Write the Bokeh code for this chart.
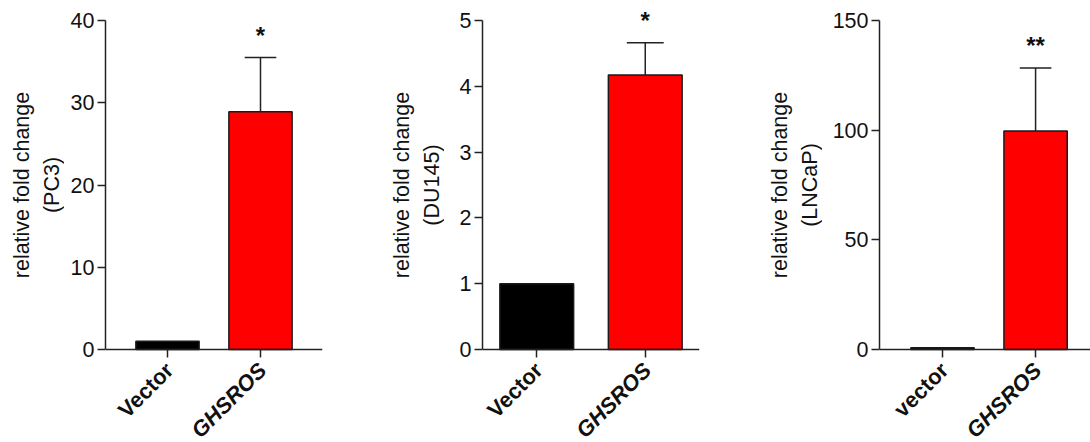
import math
from bokeh.plotting import figure
from bokeh.layouts import row
from bokeh.models import Range1d, FixedTicker
from bokeh.core.properties import value
from bokeh.embed import file_html
from bokeh.resources import INLINE

# ---------------- data ----------------
pc3_categories = ["Vector", "GHSROS"]
pc3_values = [1.0, 28.9]
pc3_errors = [0.0, 6.6]
pc3_sig = ["", "*"]
pc3_yticks = [0, 10, 20, 30, 40]

du145_categories = ["Vector", "GHSROS"]
du145_values = [1.0, 4.17]
du145_errors = [0.0, 0.49]
du145_sig = ["", "*"]
du145_yticks = [0, 1, 2, 3, 4, 5]

lncap_categories = ["vector", "GHSROS"]
lncap_values = [0.8, 99.6]
lncap_errors = [0.0, 28.8]
lncap_sig = ["", "**"]
lncap_yticks = [0, 50, 100, 150]

bar_colors = ["#000000", "#ff0000"]
label_styles = ["bold", "bold italic"]

FONT = "Liberation Sans"
AXC = "#222222"
TXT = "#111111"
H = 442
PLOT_H = 329      # px between y=0 and the top tick
PAD_TOP = 20      # px above the top tick
PAD_BOT = H - PLOT_H - PAD_TOP   # px below y=0 (category labels live there)


def make_panel(cats, vals, errs, sig, yticks, ylabel, lab_w, width, bl, br, xr):
    ytop = yticks[-1]
    px = ytop / PLOT_H
    yrange = Range1d(-PAD_BOT * px, ytop + PAD_TOP * px)

    # y-axis title (separate strip so it centres on the 0..top span)
    t = figure(width=lab_w, height=H, output_backend="svg", toolbar_location=None,
               x_range=Range1d(0, 1), y_range=yrange, min_border_left=0,
               min_border_right=0, min_border_top=0, min_border_bottom=0)
    t.outline_line_color = None
    t.grid.visible = False
    t.axis.visible = False
    t.text(x=[1], y=[(yticks[0] + ytop) / 2], text=[ylabel], x_offset=-1,
           angle=math.pi / 2, text_align="center", text_baseline="bottom",
           text_line_height=1.25, text_font=value(FONT), text_font_size="21.5px",
           text_color=TXT)

    p = figure(width=width, height=H, output_backend="svg", toolbar_location=None,
               x_range=Range1d(*xr), y_range=yrange,
               min_border_left=bl, min_border_right=br, min_border_top=0,
               min_border_bottom=0)
    p.outline_line_color = None
    p.grid.visible = False
    xs = [i + 0.5 for i in range(len(cats))]
    p.vbar(x=xs, top=vals, bottom=0, width=0.68, fill_color=bar_colors,
           line_color="#1a1a1a", line_width=1.5)
    ex = [x for x, e in zip(xs, errs) if e > 0]
    ev = [v for v, e in zip(vals, errs) if e > 0]
    et = [v + e for v, e in zip(vals, errs) if e > 0]
    p.segment(x0=ex, y0=ev, x1=ex, y1=et, line_color=AXC, line_width=1.5)
    p.segment(x0=[x - 0.17 for x in ex], y0=et, x1=[x + 0.17 for x in ex], y1=et,
              line_color=AXC, line_width=1.5)
    sx = [x for x, s in zip(xs, sig) if s]
    sy = [v + e for v, e, s in zip(vals, errs, sig) if s]
    st = [s for s in sig if s]
    p.text(x=sx, y=sy, text=st, y_offset=-22, text_align="center", text_baseline="middle",
           text_font=value(FONT), text_font_size="24px", text_font_style="bold",
           text_color=TXT)
    for x, c, s in zip(xs, cats, label_styles):
        p.text(x=[x], y=[0], text=[c], x_offset=2, y_offset=17, angle=math.pi / 4,
               text_align="right", text_baseline="middle", text_font=value(FONT),
               text_font_size="22px", text_font_style=s, text_color=TXT)

    ya = p.yaxis[0]
    ya.ticker = FixedTicker(ticks=yticks)
    ya.bounds = (yticks[0], ytop)
    ya.major_label_text_font = FONT
    ya.major_label_text_font_size = "21.5px"
    ya.major_label_text_color = TXT
    ya.major_label_standoff = 3
    xa = p.xaxis[0]
    xa.ticker = FixedTicker(ticks=xs)
    xa.fixed_location = 0
    xa.major_label_text_color = None
    xa.major_label_text_font_size = "1px"
    xa.major_label_standoff = 0
    for a in (xa, ya):
        a.axis_line_color = AXC
        a.axis_line_width = 1.5
        a.major_tick_line_color = AXC
        a.major_tick_line_width = 1.5
        a.major_tick_out = 8
        a.major_tick_in = 0
        a.minor_tick_line_color = None
    return row(t, p)


p1 = make_panel(pc3_categories, pc3_values, pc3_errors, pc3_sig, pc3_yticks,
                "relative fold change\n(PC3)", 64, 296, 41, 38, (-0.1667, 2.1667))
p2 = make_panel(du145_categories, du145_values, du145_errors, du145_sig, du145_yticks,
                "relative fold change\n(DU145)", 444 - 360, 360 - 84, 38, 21, (0.0, 2.0))
p3 = make_panel(lncap_categories, lncap_values, lncap_errors, lncap_sig, lncap_yticks,
                "relative fold change\n(LNCaP)", 822 - 720, 370 - 102, 57, 0, (-0.177, 2.09))

layout = row(p1, p2, p3)
open("out.html", "w").write(file_html(layout, INLINE))
